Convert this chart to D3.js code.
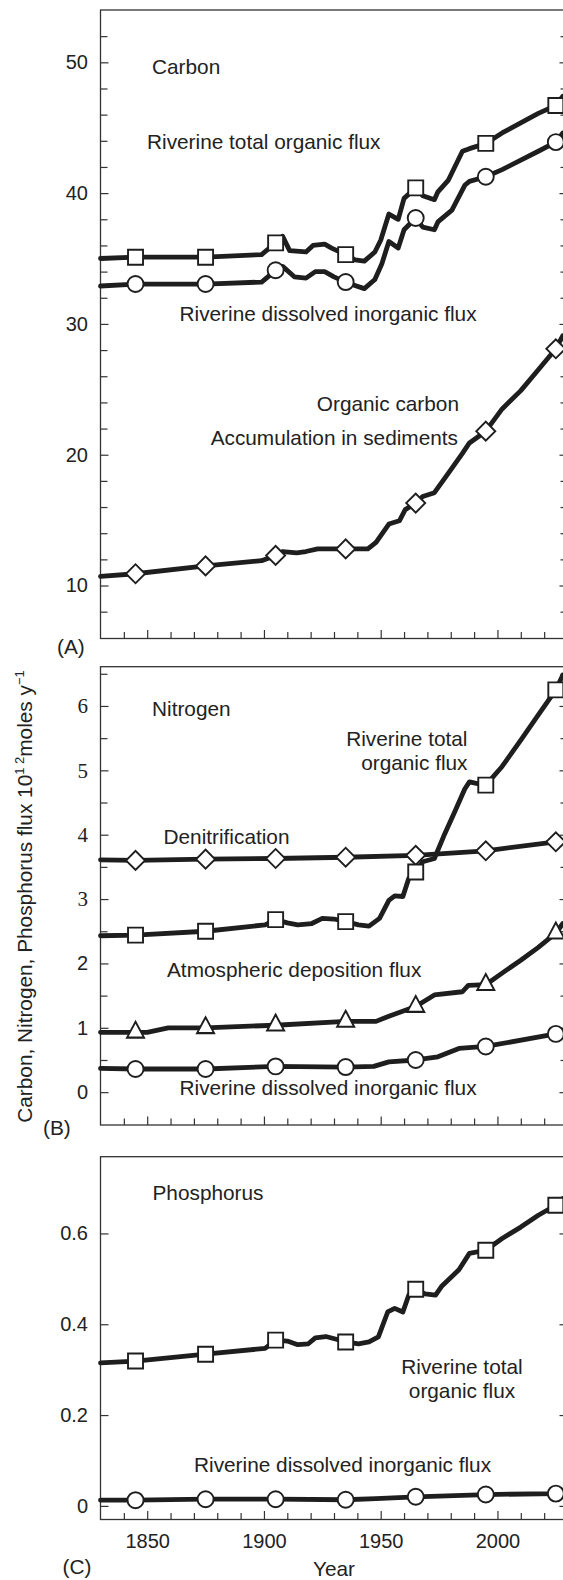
<!DOCTYPE html>
<html><head><meta charset="utf-8">
<script src="https://cdn.jsdelivr.net/npm/d3@7"></script>
<style>
body{margin:0;background:#fff;}
svg text{fill:#222;}
</style></head>
<body>
<script>
// ---------- DATA ----------
const markerYears = [1845, 1875, 1905, 1935, 1965, 1995, 2025];
const xMajorTicks = [1850, 1900, 1950, 2000];
const xMinorTicks = [1840, 1860, 1870, 1880, 1890, 1910, 1920, 1930, 1940, 1960, 1970, 1980, 1990, 2010, 2020];

// Panel A: Carbon
const yTicksA = [10, 20, 30, 40, 50];
const yMinorA = [8, 12, 14, 16, 18, 22, 24, 26, 28, 32, 34, 36, 38, 42, 44, 46, 48, 52];
const cTocYears = [1830,1845,1875,1899,1905,1908,1911,1918,1921,1926,1929,1935,1939,1943,1947.5,1950,1953.5,1957.5,1960,1965,1968,1973,1974.5,1979,1985,1988,1995,2002,2017.5,2025,2028];
const cTocValues = [35.0,35.1,35.1,35.3,36.2,36.7,35.6,35.5,36.0,36.1,35.8,35.3,34.9,34.8,35.5,36.4,38.4,38.0,39.6,40.4,39.8,39.5,40.1,41.0,43.2,43.4,43.8,44.6,46.1,46.7,47.4];
const cTocMarks = [35.1,35.1,36.2,35.3,40.4,43.8,46.7];
const cDicYears = [1830,1845,1875,1899,1905,1908,1913,1918,1922,1926,1930,1935,1938,1943,1947.5,1950.5,1953.5,1957.5,1960,1965,1968,1973,1974.5,1980.5,1986,1988,1995,2002,2017.5,2025,2028];
const cDicValues = [32.9,33.05,33.05,33.2,34.1,34.4,33.6,33.5,34.0,34.0,33.6,33.2,33.0,32.7,33.4,34.6,36.3,35.8,37.2,38.1,37.4,37.2,37.8,38.7,40.6,40.9,41.25,41.8,43.2,43.9,44.6];
const cDicMarks = [33.05,33.05,34.1,33.2,38.1,41.25,43.9];
const cSedYears = [1830,1845,1875,1899,1905,1908,1914,1918,1923,1929,1935,1939,1944.5,1948,1953.5,1958,1960.5,1965,1968,1973,1979,1985,1988,1995,2002,2010,2017.5,2025,2028];
const cSedValues = [10.7,10.9,11.5,11.9,12.3,12.6,12.5,12.6,12.8,12.8,12.8,12.8,12.8,13.3,14.7,14.95,15.8,16.3,16.8,17.1,18.6,20.1,20.9,21.8,23.5,24.9,26.5,28.1,29.1];
const cSedMarks = [10.9,11.5,12.3,12.8,16.3,21.8,28.1];

// Panel B: Nitrogen
const yTicksB = [0, 1, 2, 3, 4, 5, 6];
const yMinorB = [0.5, 1.5, 2.5, 3.5, 4.5, 5.5, 6.5];
const nDenYears = [1830,1845,1875,1905,1935,1965,1995,2025,2028];
const nDenValues = [3.61,3.60,3.62,3.63,3.65,3.68,3.75,3.89,3.91];
const nDenMarks = [3.60,3.62,3.63,3.65,3.68,3.75,3.89];
const nTonYears = [1830,1845,1875,1900.5,1905,1910,1914.5,1920.5,1925,1930,1935,1940.5,1945,1949.5,1953.5,1956,1959.5,1962,1965,1968,1973,1977.5,1982,1986,1988,1990.5,1995,2002,2010,2017.5,2025,2028];
const nTonValues = [2.43,2.44,2.50,2.60,2.68,2.63,2.60,2.62,2.70,2.69,2.65,2.60,2.58,2.70,2.98,3.05,3.04,3.32,3.42,3.58,3.63,4.02,4.38,4.71,4.82,4.80,4.77,5.06,5.47,5.86,6.25,6.48];
const nTonMarks = [2.44,2.50,2.68,2.65,3.42,4.77,6.25];
const nAtmYears = [1830,1845,1850,1859,1875,1905,1935,1948,1953.5,1965,1973,1985,1987.5,1995,2002,2010,2017.5,2025,2028];
const nAtmValues = [0.93,0.93,0.93,1.0,1.0,1.04,1.10,1.10,1.18,1.33,1.51,1.56,1.66,1.67,1.85,2.05,2.25,2.47,2.62];
const nAtmMarks = [0.93,1.0,1.04,1.10,1.33,1.67,2.47];
const nDinYears = [1830,1845,1875,1905,1935,1947,1953.5,1965,1974.5,1983.5,1995,2025,2028];
const nDinValues = [0.37,0.36,0.36,0.40,0.39,0.40,0.47,0.50,0.55,0.68,0.71,0.905,0.94];
const nDinMarks = [0.36,0.36,0.40,0.39,0.50,0.71,0.905];

// Panel C: Phosphorus
const yTicksC = [0, 0.2, 0.4, 0.6];
const pTopYears = [1830,1845,1875,1900.5,1905,1910,1914.5,1919,1922,1926.5,1931,1935,1940.5,1945,1949,1953,1956,1959.5,1962,1965,1969,1973.5,1976,1983.5,1988,1995,2002,2010,2017.5,2025,2028];
const pTopValues = [0.315,0.319,0.334,0.347,0.365,0.363,0.355,0.357,0.370,0.373,0.367,0.361,0.357,0.361,0.372,0.427,0.435,0.427,0.464,0.477,0.467,0.464,0.483,0.52,0.556,0.563,0.589,0.614,0.64,0.662,0.677];
const pTopMarks = [0.319,0.334,0.365,0.361,0.477,0.563,0.662];
const pDipYears = [1830,1845,1875,1905,1935,1948,1965,1995,2025,2028];
const pDipValues = [0.0125,0.0125,0.0147,0.0147,0.0135,0.016,0.02,0.025,0.027,0.03];
const pDipMarks = [0.0125,0.0147,0.0147,0.0135,0.02,0.025,0.027];

// ---------- DRAW ----------
const W = 563, H = 1580;
const SANS = "'Liberation Sans', Arial, Helvetica, sans-serif";
const SERIF = "'Liberation Serif', 'Times New Roman', serif";
const svg = d3.select("body").append("svg").attr("width", W).attr("height", H)
  .style("font-family", SANS);
const x = d3.scaleLinear().domain([1830, 2030]).range([100.5, 567.5]);
const INK = "#1e1e1e";
const FS = 20.8;

const symbols = {
  square: d3.symbol().type(d3.symbolSquare).size(225)(),
  circle: d3.symbol().type(d3.symbolCircle).size(201)(),
  diamond: d3.symbol().type(d3.symbolSquare).size(180)(),
  triangle: d3.symbol().type(d3.symbolTriangle).size(125)()
};

function drawPanel(cfg) {
  const y = d3.scaleLinear().domain(cfg.yDomain).range([cfg.bottom, cfg.top]);
  const g = svg.append("g");
  g.append("rect").attr("x", x.range()[0]).attr("y", cfg.top)
    .attr("width", x.range()[1] - x.range()[0]).attr("height", cfg.bottom - cfg.top)
    .attr("fill", "none").attr("stroke", "#333").attr("stroke-width", 1.3);

  const styleAxis = sel => {
    sel.select(".domain").remove();
    sel.selectAll(".tick line").attr("stroke", "#333").attr("stroke-width", 1.2);
    sel.selectAll("text").style("fill", "#222").style("font-size", "20px").style("font-family", SANS);
  };
  const left = g.append("g").attr("transform", `translate(${x.range()[0]},0)`)
    .call(d3.axisLeft(y).tickValues(cfg.yTicks).tickSizeInner(-8).tickSizeOuter(0)
      .tickPadding(12.5).tickFormat(cfg.fmt));
  styleAxis(left);
  if (cfg.tickFont) left.selectAll("text").style("font-family", d => cfg.tickFont(d))
    .style("font-size", d => cfg.tickFont(d) === SERIF ? "21px" : "20px");
  if (cfg.yMinor) {
    styleAxis(g.append("g").attr("transform", `translate(${x.range()[0]},0)`)
      .call(d3.axisLeft(y).tickValues(cfg.yMinor).tickSizeInner(-7).tickSizeOuter(0).tickFormat("")));
  }
  styleAxis(g.append("g").attr("transform", `translate(${x.range()[1]},0)`)
    .call(d3.axisRight(y).tickValues(cfg.yTicks).tickSizeInner(-8).tickSizeOuter(0).tickFormat("")));
  if (cfg.yMinor) {
    styleAxis(g.append("g").attr("transform", `translate(${x.range()[1]},0)`)
      .call(d3.axisRight(y).tickValues(cfg.yMinor).tickSizeInner(-7).tickSizeOuter(0).tickFormat("")));
  }
  styleAxis(g.append("g").attr("transform", `translate(0,${cfg.bottom})`)
    .call(d3.axisBottom(x).tickValues(xMajorTicks).tickSizeInner(-8.5).tickSizeOuter(0)
      .tickPadding(14.3).tickFormat(cfg.xLabels ? d3.format("d") : "")));
  styleAxis(g.append("g").attr("transform", `translate(0,${cfg.bottom})`)
    .call(d3.axisBottom(x).tickValues(xMinorTicks).tickSizeInner(-6.5).tickSizeOuter(0).tickFormat("")));

  const line = d3.line().x(d => x(d[0])).y(d => y(d[1]));
  cfg.series.forEach(s => {
    g.append("path").datum(d3.zip(s.years, s.values))
      .attr("d", line).attr("fill", "none").attr("stroke", INK)
      .attr("stroke-width", 4.8).attr("stroke-linejoin", "round").attr("stroke-linecap", "round");
  });
  cfg.series.forEach(s => {
    g.selectAll(null).data(d3.zip(markerYears, s.marks)).join("path")
      .attr("d", symbols[s.shape])
      .attr("transform", d => `translate(${x(d[0])},${y(d[1])})` + (s.shape === "diamond" ? " rotate(45)" : "") + (s.shape === "triangle" ? " scale(1,1.08)" : ""))
      .attr("fill", "#fff").attr("stroke", INK).attr("stroke-width", 1.9);
  });
  cfg.labels.forEach(l => {
    g.append("text").attr("x", l.x).attr("y", l.y).attr("text-anchor", l.anchor || "start")
      .style("font-size", FS + "px").text(l.t);
  });
  return y;
}

drawPanel({
  top: 10, bottom: 638.5, yDomain: [5.95, 54.0],
  yTicks: yTicksA, yMinor: yMinorA, fmt: d3.format("d"),
  series: [
    {years: cTocYears, values: cTocValues, marks: cTocMarks, shape: "square"},
    {years: cDicYears, values: cDicValues, marks: cDicMarks, shape: "circle"},
    {years: cSedYears, values: cSedValues, marks: cSedMarks, shape: "diamond"}
  ],
  labels: [
    {t: "Carbon", x: 152, y: 74},
    {t: "Riverine total organic flux", x: 147, y: 149},
    {t: "Riverine dissolved inorganic flux", x: 179.5, y: 320.5},
    {t: "Organic carbon", x: 459, y: 411, anchor: "end"},
    {t: "Accumulation in sediments", x: 458, y: 445, anchor: "end"},
    {t: "(A)", x: 57, y: 654}
  ]
});

drawPanel({
  top: 666.7, bottom: 1125, yDomain: [-0.51, 6.61],
  yTicks: yTicksB, yMinor: yMinorB, fmt: d3.format("d"),
  tickFont: d => d >= 3 ? SERIF : SANS,
  series: [
    {years: nDenYears, values: nDenValues, marks: nDenMarks, shape: "diamond"},
    {years: nTonYears, values: nTonValues, marks: nTonMarks, shape: "square"},
    {years: nAtmYears, values: nAtmValues, marks: nAtmMarks, shape: "triangle"},
    {years: nDinYears, values: nDinValues, marks: nDinMarks, shape: "circle"}
  ],
  labels: [
    {t: "Nitrogen", x: 152, y: 716},
    {t: "Riverine total", x: 467.5, y: 746, anchor: "end"},
    {t: "organic flux", x: 467.5, y: 770, anchor: "end"},
    {t: "Denitrification", x: 163.5, y: 844},
    {t: "Atmospheric deposition flux", x: 167, y: 976.5},
    {t: "Riverine dissolved inorganic flux", x: 179.5, y: 1095},
    {t: "(B)", x: 43, y: 1135}
  ]
});

drawPanel({
  top: 1156.7, bottom: 1519.5, yDomain: [-0.03, 0.769],
  yTicks: yTicksC, yMinor: null, fmt: d => d === 0 ? "0" : d3.format(".1f")(d),
  xLabels: true,
  series: [
    {years: pTopYears, values: pTopValues, marks: pTopMarks, shape: "square"},
    {years: pDipYears, values: pDipValues, marks: pDipMarks, shape: "circle"}
  ],
  labels: [
    {t: "Phosphorus", x: 152.5, y: 1200},
    {t: "Riverine total", x: 462, y: 1374, anchor: "middle"},
    {t: "organic flux", x: 462, y: 1398.3, anchor: "middle"},
    {t: "Riverine dissolved inorganic flux", x: 194, y: 1471.7},
    {t: "(C)", x: 62.5, y: 1574},
    {t: "Year", x: 334, y: 1576, anchor: "middle"}
  ]
});

// Y-axis title
const yt = svg.append("text").attr("transform", "translate(32,896.5) rotate(-90)")
  .attr("text-anchor", "middle").style("font-size", FS + "px");
yt.append("tspan").text("Carbon, Nitrogen, Phosphorus flux 10");
yt.append("tspan").attr("dy", -8).style("font-size", "13px").text("1\u00A02");
yt.append("tspan").attr("dy", 8).text("moles y");
yt.append("tspan").attr("dy", -8).style("font-size", "13px").text("\u22121");
</script>
</body></html>
